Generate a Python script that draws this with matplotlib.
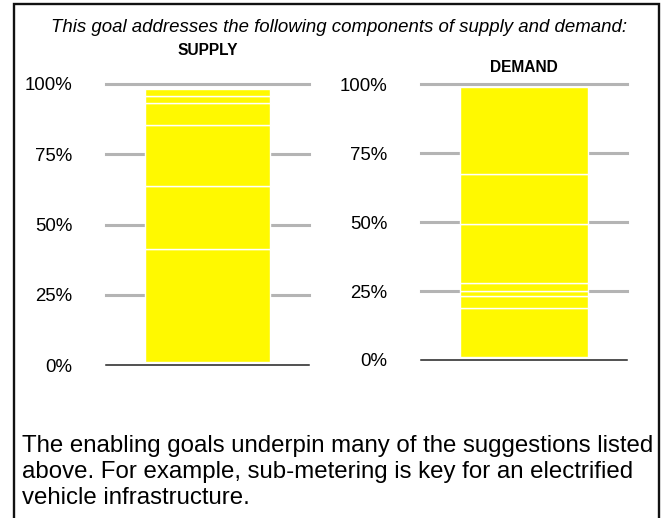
import matplotlib
matplotlib.use("Agg")
import matplotlib.pyplot as plt
from matplotlib.patches import Rectangle

# Datos (porcentaje de cada componente)
supply_parts = [40.1, 22.3, 21.7, 7.8, 2.7, 2.4]
demand_parts = [17.6, 4.3, 1.8, 2.9, 21.4, 18.2, 31.7]
tick_vals = [0, 25, 50, 75, 100]
tick_labels = ["0%", "25%", "50%", "75%", "100%"]

titulo = "This goal addresses the following components of supply and demand:"
nota = ("The enabling goals underpin many of the suggestions listed\n"
        "above. For example, sub-metering is key for an electrified\n"
        "vehicle infrastructure.")

plt.rcParams['font.family'] = ['Liberation Sans', 'DejaVu Sans']

W, H = 665, 518
fig = plt.figure(figsize=(W / 100, H / 100), dpi=100)


def px_axes(x0, x1, y_top, y_bot):
    return fig.add_axes([x0 / W, 1 - y_bot / H, (x1 - x0) / W, (y_bot - y_top) / H])


def dibujar(ax, partes, nombre, y_nombre):
    ax.set_xlim(0, 1)
    ax.set_ylim(0, 100)
    for v in tick_vals[1:]:
        ax.axhline(v, color='#b4b4b4', lw=2.2, zorder=1, clip_on=False)
    base = 1.2
    for p in partes:
        ax.bar(0.5, p, width=0.62, bottom=base, color='#fff900',
               edgecolor='white', linewidth=1.0, zorder=2)
        base += p
    ax.axhline(0, color='#222222', lw=1.1, zorder=3, clip_on=False)
    ax.set_yticks(tick_vals)
    ax.set_yticklabels(tick_labels, fontsize=13.4)
    ax.tick_params(axis='y', length=0, pad=24)
    ax.set_xticks([])
    for s in ax.spines.values():
        s.set_visible(False)
    ax.text(0.5, y_nombre, nombre, transform=ax.transAxes, ha='center',
            va='center', fontsize=11.2, fontweight='bold')


ax1 = px_axes(106, 309, 84, 365)
dibujar(ax1, supply_parts, "SUPPLY", 1.12)
ax2 = px_axes(421, 627, 84.3, 360)
dibujar(ax2, demand_parts, "DEMAND", 1.06)

fig.text(338.5 / W, 1 - 28 / H, titulo, ha='center', va='center',
         fontsize=13.4, style='italic')
fig.text(22 / W, 1 - 435 / H, nota, ha='left', va='top', fontsize=17.3,
         linespacing=1.25)

# marco alrededor de la figura
fig.patches.append(Rectangle((13.5 / W, -0.1), (659 - 13.5) / W, 1.1 - 4.3 / H,
                             transform=fig.transFigure, fill=False,
                             edgecolor='#111111', lw=1.7))

fig.savefig("out.png", dpi=100)
